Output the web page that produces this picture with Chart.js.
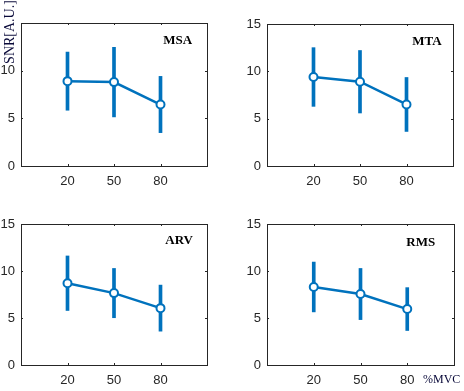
<!DOCTYPE html>
<html>
<head>
<meta charset="utf-8">
<script src="https://cdn.jsdelivr.net/npm/chart.js@4"></script>
<style>
  html, body { margin: 0; padding: 0; background: #fff; }
  #wrap { position: relative; width: 464px; height: 391px; overflow: hidden; }
  canvas { position: absolute; }
</style>
</head>
<body>
<div id="wrap">
  <canvas id="c1" width="232" height="195" style="left:0;top:0"></canvas>
  <canvas id="c2" width="232" height="195" style="left:232px;top:0"></canvas>
  <canvas id="c3" width="232" height="196" style="left:0;top:195px"></canvas>
  <canvas id="c4" width="232" height="196" style="left:232px;top:195px"></canvas>
</div>
<script>
// x categories (%MVC) and y ticks
const categories = ["20", "50", "80"];
const yTicks = [0, 5, 10, 15];

// mean SNR and standard deviation per method
const msaMean = [8.9, 8.8, 6.45];
const msaSd = [3.05, 3.65, 2.95];
const mtaMean = [9.4, 8.9, 6.5];
const mtaSd = [3.1, 3.3, 2.85];
const arvMean = [8.7, 7.65, 6.05];
const arvSd = [2.9, 2.62, 2.45];
const rmsMean = [8.3, 7.55, 5.95];
const rmsSd = [2.65, 2.72, 2.28];

const blue = '#0072BD';
const axisColor = '#262626';

// рамка, внутренние риски и подписи
const boxPlugin = {
  id: 'box',
  afterDraw(chart, args, opts) {
    const ctx = chart.ctx;
    const a = chart.chartArea;
    const xs = chart.scales.x, ys = chart.scales.y;
    ctx.save();
    ctx.strokeStyle = axisColor;
    ctx.lineWidth = 1;
    ctx.strokeRect(Math.round(a.left) + 0.5, Math.round(a.top) + 0.5,
      Math.round(a.right - a.left), Math.round(a.bottom - a.top));
    ctx.beginPath();
    [1, 2, 3].forEach(v => {
      const px = Math.round(xs.getPixelForValue(v)) + 0.5;
      ctx.moveTo(px, a.bottom); ctx.lineTo(px, a.bottom - 2);
      ctx.moveTo(px, a.top); ctx.lineTo(px, a.top + 2);
    });
    yTicks.forEach(v => {
      const py = Math.round(ys.getPixelForValue(v)) + 0.5;
      ctx.moveTo(a.left, py); ctx.lineTo(a.left + 2, py);
      ctx.moveTo(a.right, py); ctx.lineTo(a.right - 2, py);
    });
    ctx.stroke();

    ctx.fillStyle = '#000';
    ctx.font = 'bold 13px "Liberation Serif"';
    ctx.textAlign = 'center';
    ctx.textBaseline = 'middle';
    ctx.fillText(opts.title, xs.getPixelForValue(opts.tx), ys.getPixelForValue(opts.ty));

    ctx.fillStyle = '#0a0a3a';
    if (opts.ylabel) {
      ctx.font = '14px "Liberation Serif"';
      ctx.translate(10, 32);
      ctx.rotate(-Math.PI / 2);
      ctx.fillText('SNR[A.U.]', 0, 0);
      ctx.setTransform(1, 0, 0, 1, 0, 0);
    }
    if (opts.xlabel) {
      ctx.font = '12px "Liberation Serif"';
      ctx.textAlign = 'left';
      ctx.fillText('%MVC', a.right - 31, chart.height - 11);
    }
    ctx.restore();
  }
};

function makeChart(id, mean, sd, cfg) {
  const bars = mean.map((m, i) => ({ x: i + 1, y: [m - sd[i], m + sd[i]] }));
  const pts = mean.map((m, i) => ({ x: i + 1, y: m }));
  return new Chart(document.getElementById(id), {
    data: {
      datasets: [
        {
          type: 'line',
          data: pts,
          borderColor: blue,
          borderWidth: 2.5,
          pointRadius: 4,
          pointBorderWidth: 2,
          pointBackgroundColor: '#fff',
          pointBorderColor: blue,
          tension: 0,
          order: 0
        },
        {
          type: 'bar',
          data: bars,
          backgroundColor: blue,
          barThickness: 3,
          order: 1
        }
      ]
    },
    options: {
      responsive: false,
      animation: false,
      layout: { padding: { top: cfg.top, right: cfg.right, left: 0, bottom: 0 } },
      plugins: {
        legend: { display: false },
        tooltip: { enabled: false },
        box: cfg
      },
      scales: {
        x: {
          type: 'linear',
          min: 0,
          max: 4,
          offset: false,
          afterBuildTicks: s => { s.ticks = [1, 2, 3].map(v => ({ value: v })); },
          afterFit: s => { s.height = cfg.xh; },
          grid: { display: false, drawTicks: false, offset: false },
          border: { display: false },
          ticks: {
            padding: 8,
            color: axisColor,
            font: { family: 'Liberation Sans', size: 13 },
            callback: v => categories[v - 1]
          }
        },
        y: {
          min: 0,
          max: 15,
          afterBuildTicks: s => { s.ticks = yTicks.map(v => ({ value: v })); },
          afterFit: s => { s.width = cfg.yw; },
          grid: { display: false, drawTicks: false },
          border: { display: false },
          ticks: {
            padding: 6,
            color: axisColor,
            font: { family: 'Liberation Sans', size: 13 },
            callback: v => (cfg.ylabel && v === 15) ? '' : String(v)
          }
        }
      }
    },
    plugins: [boxPlugin]
  });
}

makeChart('c1', msaMean, msaSd, { title: 'MSA', tx: 3.37, ty: 13.2, top: 23, right: 25, yw: 21, xh: 29, ylabel: true });
makeChart('c2', mtaMean, mtaSd, { title: 'MTA', tx: 3.44, ty: 13.15, top: 24, right: 11, yw: 35, xh: 29 });
makeChart('c3', arvMean, arvSd, { title: 'ARV', tx: 3.40, ty: 13.27, top: 29, right: 25, yw: 21, xh: 26 });
makeChart('c4', rmsMean, rmsSd, { title: 'RMS', tx: 3.29, ty: 13.0, top: 29, right: 10, yw: 35, xh: 26, xlabel: true });
</script>
</body>
</html>
